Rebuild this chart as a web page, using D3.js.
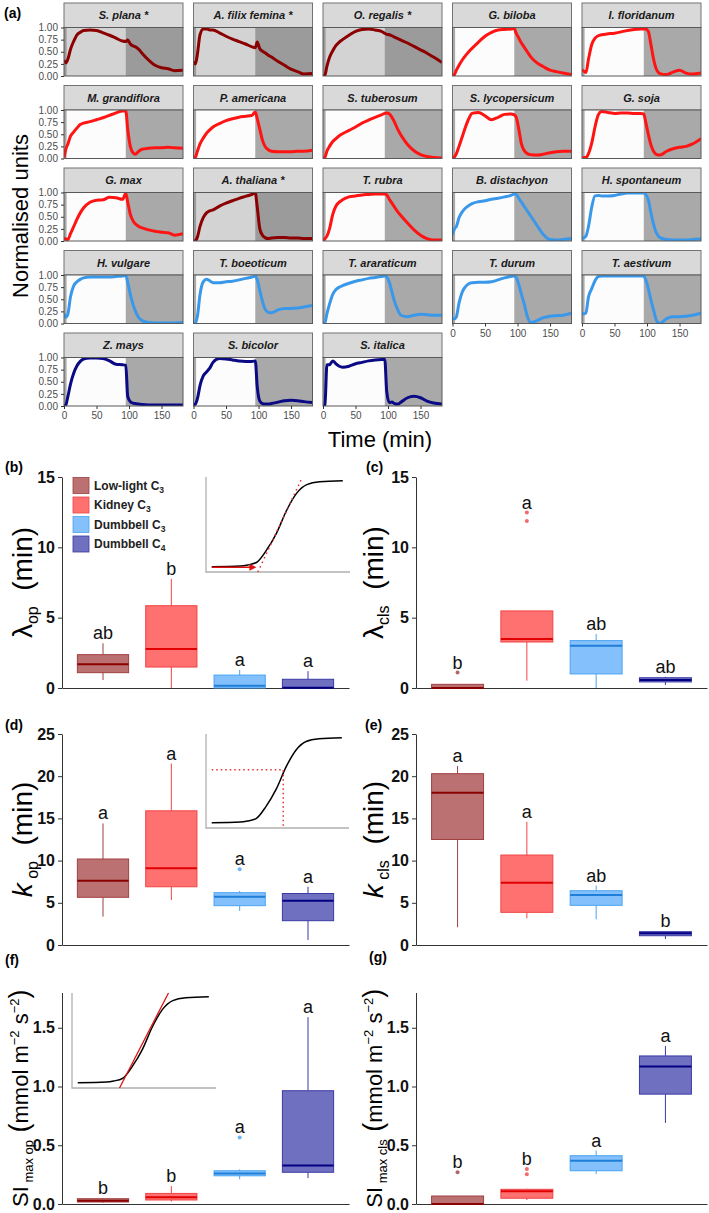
<!DOCTYPE html>
<html>
<head>
<meta charset="utf-8">
<script src="https://cdn.jsdelivr.net/npm/d3@7"></script>
<style>
  body { margin: 0; background: #fff; }
  svg { display: block; font-family: "Liberation Sans", Arial, sans-serif; }
</style>
</head>
<body>
<svg id="chart" width="709" height="1213"></svg>
<script>
// ---------- panel (a) data ----------
const species = [
  "S. plana *", "A. filix femina *", "O. regalis *", "G. biloba", "I. floridanum",
  "M. grandiflora", "P. americana", "S. tuberosum", "S. lycopersicum", "G. soja",
  "G. max", "A. thaliana *", "T. rubra", "B. distachyon", "H. spontaneum",
  "H. vulgare", "T. boeoticum", "T. araraticum", "T. durum", "T. aestivum",
  "Z. mays", "S. bicolor", "S. italica"
];
// 0 low-light C3, 1 kidney C3, 2 dumbbell C3, 3 dumbbell C4
const speciesGroup = [0,0,0,1,1, 1,1,1,1,1, 1,0,1,2,2, 2,2,2,2,2, 3,3,3];
const facetTime = [0,3,6,10,15,20,25,30,40,50,60,70,80,90,95,98,102,106,110,115,120,130,140,150,160,170,183];
const facetValues = [
  [0.33,0.27,0.35,0.55,0.72,0.85,0.90,0.94,0.95,0.94,0.89,0.84,0.78,0.72,0.71,0.74,0.66,0.62,0.60,0.55,0.47,0.33,0.22,0.17,0.15,0.11,0.12],
  [0.30,0.25,0.45,0.85,0.97,0.97,0.95,0.95,0.89,0.82,0.76,0.71,0.66,0.60,0.58,0.70,0.56,0.51,0.48,0.43,0.39,0.30,0.22,0.14,0.09,0.04,0.05],
  [0.00,0.02,0.20,0.38,0.52,0.63,0.70,0.75,0.84,0.92,0.96,0.97,0.95,0.92,0.88,0.86,0.85,0.83,0.80,0.77,0.74,0.68,0.61,0.54,0.47,0.39,0.28],
  [0.00,0.03,0.12,0.22,0.33,0.42,0.50,0.57,0.70,0.82,0.90,0.95,0.96,0.97,0.98,0.88,0.78,0.68,0.60,0.50,0.40,0.27,0.19,0.12,0.09,0.06,0.03],
  [0.12,0.10,0.07,0.35,0.65,0.78,0.83,0.85,0.87,0.88,0.91,0.94,0.96,0.97,0.97,0.97,0.92,0.65,0.35,0.12,0.05,0.03,0.08,0.12,0.06,0.04,0.06],
  [0.02,0.20,0.30,0.46,0.55,0.63,0.70,0.73,0.76,0.80,0.84,0.89,0.94,0.98,0.98,0.60,0.25,0.12,0.09,0.15,0.19,0.21,0.22,0.22,0.23,0.22,0.21],
  [0.00,0.03,0.15,0.30,0.42,0.52,0.59,0.65,0.72,0.78,0.82,0.85,0.87,0.89,0.96,0.82,0.60,0.38,0.25,0.18,0.15,0.14,0.14,0.14,0.15,0.15,0.17],
  [0.00,0.03,0.15,0.25,0.35,0.41,0.47,0.51,0.58,0.65,0.73,0.79,0.85,0.90,0.93,0.94,0.92,0.85,0.75,0.60,0.48,0.29,0.16,0.08,0.04,0.02,0.01],
  [0.00,0.03,0.10,0.25,0.45,0.65,0.82,0.93,0.95,0.88,0.80,0.85,0.91,0.92,0.90,0.85,0.60,0.30,0.17,0.10,0.08,0.07,0.09,0.12,0.14,0.15,0.15],
  [0.00,0.02,0.02,0.10,0.32,0.65,0.90,0.97,0.95,0.93,0.94,0.94,0.93,0.93,0.92,0.75,0.50,0.28,0.15,0.08,0.07,0.15,0.20,0.23,0.25,0.30,0.41],
  [0.05,0.04,0.03,0.15,0.30,0.45,0.58,0.68,0.80,0.84,0.85,0.90,0.89,0.86,0.98,0.80,0.55,0.42,0.35,0.30,0.27,0.23,0.20,0.18,0.17,0.12,0.15],
  [0.00,0.01,0.08,0.30,0.48,0.58,0.62,0.64,0.72,0.78,0.83,0.88,0.92,0.96,0.99,0.70,0.25,0.12,0.07,0.05,0.06,0.07,0.07,0.06,0.06,0.05,0.05],
  [0.02,0.05,0.10,0.25,0.55,0.72,0.80,0.85,0.91,0.93,0.95,0.96,0.97,0.97,0.97,0.95,0.86,0.78,0.70,0.60,0.52,0.37,0.23,0.12,0.05,0.02,0.02],
  [0.12,0.25,0.30,0.48,0.60,0.68,0.73,0.77,0.81,0.83,0.86,0.88,0.91,0.94,0.97,0.96,0.88,0.80,0.72,0.62,0.52,0.32,0.13,0.03,0.02,0.03,0.05],
  [0.05,0.07,0.10,0.30,0.70,0.93,0.94,0.93,0.93,0.94,0.97,0.99,0.99,0.99,0.99,0.96,0.85,0.58,0.35,0.15,0.07,0.03,0.02,0.02,0.02,0.03,0.04],
  [0.20,0.13,0.20,0.55,0.78,0.86,0.91,0.94,0.96,0.96,0.96,0.96,0.97,0.98,0.99,0.85,0.60,0.40,0.25,0.12,0.06,0.02,0.01,0.01,0.01,0.01,0.02],
  [0.00,0.02,0.15,0.60,0.86,0.91,0.88,0.84,0.84,0.86,0.87,0.90,0.93,0.96,0.98,0.90,0.68,0.46,0.30,0.23,0.22,0.28,0.31,0.31,0.32,0.34,0.37],
  [0.00,0.02,0.20,0.40,0.60,0.70,0.75,0.78,0.83,0.87,0.90,0.93,0.95,0.97,0.98,0.96,0.85,0.65,0.45,0.28,0.17,0.14,0.17,0.19,0.18,0.17,0.17],
  [0.10,0.10,0.14,0.42,0.65,0.76,0.82,0.84,0.85,0.85,0.86,0.90,0.94,0.97,0.98,0.95,0.80,0.60,0.42,0.15,0.02,0.06,0.12,0.15,0.16,0.17,0.21],
  [0.20,0.20,0.22,0.55,0.72,0.88,0.97,0.98,0.98,0.98,0.98,0.98,0.98,0.98,0.98,0.90,0.72,0.48,0.28,0.05,0.00,0.10,0.14,0.14,0.15,0.17,0.21],
  [0.00,0.03,0.20,0.45,0.68,0.83,0.92,0.97,0.99,0.99,0.98,0.93,0.86,0.85,0.84,0.20,0.09,0.06,0.05,0.04,0.03,0.02,0.02,0.02,0.02,0.02,0.02],
  [0.02,0.04,0.15,0.42,0.62,0.70,0.78,0.90,0.98,0.97,0.95,0.93,0.92,0.92,0.93,0.40,0.10,0.05,0.04,0.04,0.05,0.08,0.11,0.12,0.11,0.09,0.07],
  [0.00,0.02,0.85,0.85,0.93,0.87,0.82,0.80,0.82,0.87,0.90,0.93,0.95,0.96,0.96,0.30,0.07,0.08,0.05,0.04,0.08,0.17,0.20,0.17,0.10,0.06,0.04]
];
const lightOn = 4, lightOff = 95;
const timeTicks = [0, 50, 100, 150];
const unitTicks = [0, 0.25, 0.5, 0.75, 1];

// ---------- box plot data: [low whisker, Q1, median, Q3, high whisker] ----------
const groupNames = ["Low-light", "Kidney", "Dumbbell", "Dumbbell"];
const groupSubs = ["3", "3", "3", "4"];
const lambdaOpStats = [[0.57,1.09,1.68,2.37,3.18],[0,1.49,2.77,5.85,7.75],[0,0,0.16,0.92,1.28],[0,0,0.02,0.62,1.2]];
const lambdaOpOut = [[],[],[],[]];
const lambdaOpLetters = ["ab","b","a","a"];
const lambdaClsStats = [[0,0,0,0.26,0.26],[0.52,3.27,3.49,5.48,5.48],[0,1.0,3.01,3.37,3.84],[0.21,0.43,0.57,0.73,0.8]];
const lambdaClsOut = [[1.1],[11.88,12.47],[],[]];
const lambdaClsLetters = ["b","a","ab","ab"];
const kOpStats = [[3.36,5.65,7.62,10.19,14.4],[5.33,6.9,9.08,15.9,21.5],[4.03,4.66,5.73,6.2,6.4],[0.6,2.88,5.25,6.1,6.9]];
const kOpOut = [[],[],[8.97],[]];
const kOpLetters = ["a","a","a","a"];
const kClsStats = [[2.1,12.5,18.05,20.3,21.2],[3.16,3.87,7.38,10.66,14.6],[3.04,4.7,5.92,6.43,7.03],[0.71,1.1,1.38,1.58,1.6]];
const kClsOut = [[],[],[],[]];
const kClsLetters = ["a","a","ab","b"];
const siOpStats = [[0.01,0.017,0.028,0.045,0.05],[0.02,0.034,0.057,0.09,0.153],[0.21,0.24,0.26,0.283,0.295],[0.22,0.27,0.327,0.964,1.59]];
const siOpOut = [[],[],[0.566],[]];
const siOpLetters = ["b","b","a","a"];
const siClsStats = [[0,0,0,0.068,0.068],[0.034,0.049,0.108,0.125,0.13],[0.255,0.283,0.368,0.411,0.455],[0.69,0.935,1.17,1.26,1.345]];
const siClsOut = [[0.27],[0.253,0.298],[],[]];
const siClsLetters = ["b","b","a","a"];

// schematic sigmoid for the insets (fraction of inset width / height)
const insetU = [0.04,0.24,0.29,0.35,0.42,0.49,0.56,0.63,0.70,0.79,0.95];
const insetV = [0.056,0.063,0.074,0.10,0.23,0.41,0.65,0.83,0.92,0.95,0.96];

// ---------- styles ----------
const lineCol = ["#8b0000", "#ff1414", "#3a98ea", "#0a0a84"];
const boxFill = ["#bb7171", "#ff7070", "#84c0fb", "#7070c0"];
const boxLine = ["#a04040", "#f04545", "#4ba4f2", "#3a3aa6"];
const medCol  = ["#8b0000", "#e00000", "#1f7fd8", "#000080"];

const svg = d3.select("#chart");
svg.append("rect").attr("width", 709).attr("height", 1213).attr("fill", "#fff");

// ---------- panel (a) ----------
const colX = [64, 193.5, 323, 452.5, 582];
const rowY = [3, 85.5, 168, 250.5, 333];
const stripH = 24.5, panelH = 48.5, panelW = 119;
const fx = d3.scaleLinear().domain([0, 183]).range([0, panelW]);
const fy = d3.scaleLinear().domain([0, 1]).range([panelH, 0]);
const facetLine = d3.line()
  .x((d, i) => fx(facetTime[i]))
  .y(d => fy(d))
  .curve(d3.curveMonotoneX);

species.forEach((name, i) => {
  const c = i % 5, r = Math.floor(i / 5);
  const low = speciesGroup[i] === 0;
  const g = svg.append("g").attr("transform", `translate(${colX[c]},${rowY[r]})`);

  g.append("rect").attr("width", panelW).attr("height", stripH)
    .attr("fill", "#d9d9d9").attr("stroke", "#737373").attr("stroke-width", 1);
  g.append("text").attr("x", panelW / 2).attr("y", stripH / 2 + 4)
    .attr("text-anchor", "middle").attr("font-size", 11)
    .attr("font-weight", "bold").attr("font-style", "italic")
    .attr("fill", "#1a1a1a").text(name);

  const p = g.append("g").attr("transform", `translate(0,${stripH})`);
  p.append("rect").attr("width", panelW).attr("height", panelH)
    .attr("fill", low ? "#9b9b9b" : "#a9a9a9");
  p.append("rect").attr("x", fx(lightOn)).attr("width", fx(lightOff) - fx(lightOn))
    .attr("height", panelH).attr("fill", low ? "#d3d3d3" : "#fcfcfc");

  p.append("clipPath").attr("id", "clip" + i)
    .append("rect").attr("width", panelW).attr("height", panelH);
  p.append("path").datum(facetValues[i])
    .attr("clip-path", `url(#clip${i})`)
    .attr("d", facetLine)
    .attr("fill", "none")
    .attr("stroke", lineCol[speciesGroup[i]])
    .attr("stroke-width", 3)
    .attr("stroke-linejoin", "round");

  p.append("rect").attr("width", panelW).attr("height", panelH)
    .attr("fill", "none").attr("stroke", "#595959").attr("stroke-width", 1);

  if (c === 0) {
    const ax = p.append("g").call(d3.axisLeft(fy).tickValues(unitTicks)
      .tickFormat(d3.format(".2f")).tickSize(3).tickSizeOuter(0));
    ax.select(".domain").remove();
    ax.selectAll("line").attr("stroke", "#333");
    ax.selectAll("text").attr("font-size", 10).attr("fill", "#4d4d4d")
      .attr("font-family", "Liberation Sans, Arial, sans-serif");
  }
  const bottom = (c < 3 && r === 4) || (c >= 3 && r === 3);
  if (bottom) {
    const ax = p.append("g").attr("transform", `translate(0,${panelH})`)
      .call(d3.axisBottom(fx).tickValues(timeTicks).tickSize(3).tickSizeOuter(0));
    ax.select(".domain").remove();
    ax.selectAll("line").attr("stroke", "#333");
    ax.selectAll("text").attr("font-size", 10).attr("fill", "#4d4d4d")
      .attr("font-family", "Liberation Sans, Arial, sans-serif");
  }
});

svg.append("text").attr("transform", "translate(28,216) rotate(-90)")
  .attr("text-anchor", "middle").attr("font-size", 22).attr("fill", "#000")
  .text("Normalised units");
svg.append("text").attr("x", 380).attr("y", 447)
  .attr("text-anchor", "middle").attr("font-size", 22).attr("fill", "#000")
  .text("Time (min)");

// ---------- panel labels ----------
const panelTags = [["(a)", 4, 18], ["(b)", 5, 472], ["(c)", 366, 472], ["(d)", 5, 730],
                   ["(e)", 365, 730], ["(f)", 5, 965], ["(g)", 369, 962]];
panelTags.forEach(([t, x, y]) => {
  svg.append("text").attr("x", x).attr("y", y).attr("font-size", 14)
    .attr("font-weight", "bold").text(t);
});

// ---------- box plot panels ----------
function rotatedTitle(x, y, parts) {
  const t = svg.append("text").attr("transform", `translate(${x},${y}) rotate(-90)`)
    .attr("text-anchor", "middle").attr("fill", "#000").attr("xml:space", "preserve");
  parts.forEach(p => {
    t.append("tspan").attr("font-size", p.s).attr("dy", p.dy || 0)
      .attr("font-style", p.it ? "italic" : null).text(p.t);
  });
}

function boxPanel(o) {
  const x = d3.scaleLinear().domain([0.4, 4.6]).range([o.x0, o.x1]);
  const y = d3.scaleLinear().domain(o.domain).range([o.yb, o.yt]);
  const g = svg.append("g");

  const ay = g.append("g").attr("transform", `translate(${o.x0},0)`)
    .call(d3.axisLeft(y).tickValues(o.ticks).tickFormat(o.fmt).tickSize(4).tickSizeOuter(0));
  ay.select(".domain").attr("stroke", "#333");
  ay.selectAll("line").attr("stroke", "#333");
  ay.selectAll("text").attr("font-size", 16).attr("font-weight", "bold").attr("fill", "#111")
    .attr("font-family", "Liberation Sans, Arial, sans-serif");
  const axb = g.append("g").attr("transform", `translate(0,${o.yb})`)
    .call(d3.axisBottom(x).tickValues([]).tickSizeOuter(0));
  axb.select(".domain").attr("stroke", "#333");

  const bw = 0.75 / 2;
  o.stats.forEach((s, j) => {
    const cx = x(j + 1);
    g.append("line").attr("x1", cx).attr("x2", cx).attr("y1", y(s[0])).attr("y2", y(s[1]))
      .attr("stroke", boxLine[j]).attr("stroke-width", 1);
    g.append("line").attr("x1", cx).attr("x2", cx).attr("y1", y(s[3])).attr("y2", y(s[4]))
      .attr("stroke", boxLine[j]).attr("stroke-width", 1);
    g.append("rect").attr("x", x(j + 1 - bw)).attr("width", x(j + 1 + bw) - x(j + 1 - bw))
      .attr("y", y(s[3])).attr("height", Math.max(y(s[1]) - y(s[3]), 0.5))
      .attr("fill", boxFill[j]).attr("stroke", boxLine[j]).attr("stroke-width", 1);
    g.append("line").attr("x1", x(j + 1 - bw)).attr("x2", x(j + 1 + bw))
      .attr("y1", y(s[2])).attr("y2", y(s[2]))
      .attr("stroke", medCol[j]).attr("stroke-width", 2);
    o.out[j].forEach(v => {
      g.append("circle").attr("cx", cx).attr("cy", y(v)).attr("r", 2)
        .attr("fill", boxLine[j]).attr("opacity", 0.8);
    });
    const top = d3.max([s[4], ...o.out[j]]);
    g.append("text").attr("x", cx).attr("y", y(top) - 4)
      .attr("text-anchor", "middle").attr("font-size", 18).attr("fill", "#111")
      .text(o.letters[j]);
  });
  rotatedTitle(o.tx, (o.yb + o.yt) / 2, o.title);
  return { x, y };
}

const intFmt = d3.format("d");
const decFmt = d3.format(".1f");
const lamTitle = sub => [{ t: "λ", s: 28 }, { t: sub, s: 16, dy: 6 }, { t: "  (min)", s: 28, dy: -6 }];
const kTitle = sub => [{ t: "k", s: 28, it: true }, { t: " " + sub, s: 16, dy: 6 }, { t: "  (min)", s: 28, dy: -6 }];
boxPanel({ x0: 62, x1: 349, yb: 688, yt: 477, domain: [0, 15], ticks: [0, 5, 10, 15], fmt: intFmt,
  stats: lambdaOpStats, out: lambdaOpOut, letters: lambdaOpLetters, tx: 32, title: lamTitle("op") });
boxPanel({ x0: 416, x1: 707, yb: 688, yt: 477, domain: [0, 15], ticks: [0, 5, 10, 15], fmt: intFmt,
  stats: lambdaClsStats, out: lambdaClsOut, letters: lambdaClsLetters, tx: 383, title: lamTitle("cls") });
boxPanel({ x0: 62, x1: 349, yb: 945, yt: 734, domain: [0, 25], ticks: [0, 5, 10, 15, 20, 25], fmt: intFmt,
  stats: kOpStats, out: kOpOut, letters: kOpLetters, tx: 32, title: kTitle("op") });
boxPanel({ x0: 416, x1: 707, yb: 945, yt: 734, domain: [0, 25], ticks: [0, 5, 10, 15, 20, 25], fmt: intFmt,
  stats: kClsStats, out: kClsOut, letters: kClsLetters, tx: 383, title: kTitle("cls") });
const siOpTitle = [{ t: "SI", s: 22 }, { t: " max op", s: 13, dy: 5 }, { t: " (", s: 27, dy: -5 },
  { t: "mmol m", s: 22 }, { t: "−2", s: 13, dy: -9 }, { t: " s", s: 22, dy: 9 },
  { t: "−2", s: 13, dy: -9 }, { t: ")", s: 27, dy: 9 }];
const siClsTitle = siOpTitle.map(p => p.t === " max op" ? { ...p, t: " max cls" } : p);
boxPanel({ x0: 62, x1: 349, yb: 1204, yt: 992.5, domain: [0, 1.8], ticks: [0, 0.5, 1, 1.5], fmt: decFmt,
  stats: siOpStats, out: siOpOut, letters: siOpLetters, tx: 28, title: siOpTitle });
boxPanel({ x0: 416, x1: 707, yb: 1204, yt: 992.5, domain: [0, 1.8], ticks: [0, 0.5, 1, 1.5], fmt: decFmt,
  stats: siClsStats, out: siClsOut, letters: siClsLetters, tx: 382, title: siClsTitle });

// ---------- legend in (b) ----------
groupNames.forEach((n, j) => {
  const ly = 477.5 + j * 19.5;
  svg.append("rect").attr("x", 73).attr("y", ly).attr("width", 16).attr("height", 16)
    .attr("fill", boxFill[j]).attr("stroke", boxLine[j]).attr("stroke-width", 0.8);
  const t = svg.append("text").attr("x", 94).attr("y", ly + 12)
    .attr("font-size", 12).attr("font-weight", "bold").attr("fill", "#222");
  t.append("tspan").text(n + " C");
  t.append("tspan").attr("font-size", 8.5).attr("dy", 3).text(groupSubs[j]);
});

// ---------- insets ----------
function inset(ox, oy, w, h) {
  const ix = d3.scaleLinear().domain([0, 1]).range([ox, ox + w]);
  const iy = d3.scaleLinear().domain([0, 1]).range([oy, oy - h]);
  const g = svg.append("g");
  g.append("path").attr("d", `M${ix(0)},${iy(1)}V${iy(0)}H${ix(1)}`)
    .attr("fill", "none").attr("stroke", "#b0b0b0").attr("stroke-width", 1.3);
  g.append("path").datum(insetU)
    .attr("d", d3.line().x(d => ix(d)).y((d, i) => iy(insetV[i])).curve(d3.curveMonotoneX))
    .attr("fill", "none").attr("stroke", "#000").attr("stroke-width", 1.5);
  return { g, ix, iy };
}

// (b) lag time
const ib = inset(206, 572, 144, 95);
ib.g.append("line").attr("x1", ib.ix(0.36)).attr("y1", ib.iy(0)).attr("x2", ib.ix(0.67)).attr("y2", ib.iy(1))
  .attr("stroke", "#e03030").attr("stroke-width", 1.5).attr("stroke-dasharray", "1.5,3.5");
ib.g.append("line").attr("x1", ib.ix(0.04)).attr("y1", ib.iy(0.05)).attr("x2", ib.ix(0.31)).attr("y2", ib.iy(0.05))
  .attr("stroke", "#e01010").attr("stroke-width", 1.6);
ib.g.append("path")
  .attr("d", `M${ib.ix(0.35)},${ib.iy(0.05)}l-7,-3.5v7z`)
  .attr("fill", "#e01010");

// (d) time constant
const id = inset(206, 828, 143, 94);
id.g.append("path").attr("d", `M${id.ix(0.04)},${id.iy(0.62)}H${id.ix(0.54)}V${id.iy(0)}`)
  .attr("fill", "none").attr("stroke", "#e03030").attr("stroke-width", 1.5).attr("stroke-dasharray", "1.5,3");

// (f) max slope
const iff = inset(72, 1088, 144, 95);
iff.g.append("line").attr("x1", iff.ix(0.33)).attr("y1", iff.iy(0)).attr("x2", iff.ix(0.67)).attr("y2", iff.iy(1))
  .attr("stroke", "#e01010").attr("stroke-width", 1.3);
</script>
</body>
</html>
